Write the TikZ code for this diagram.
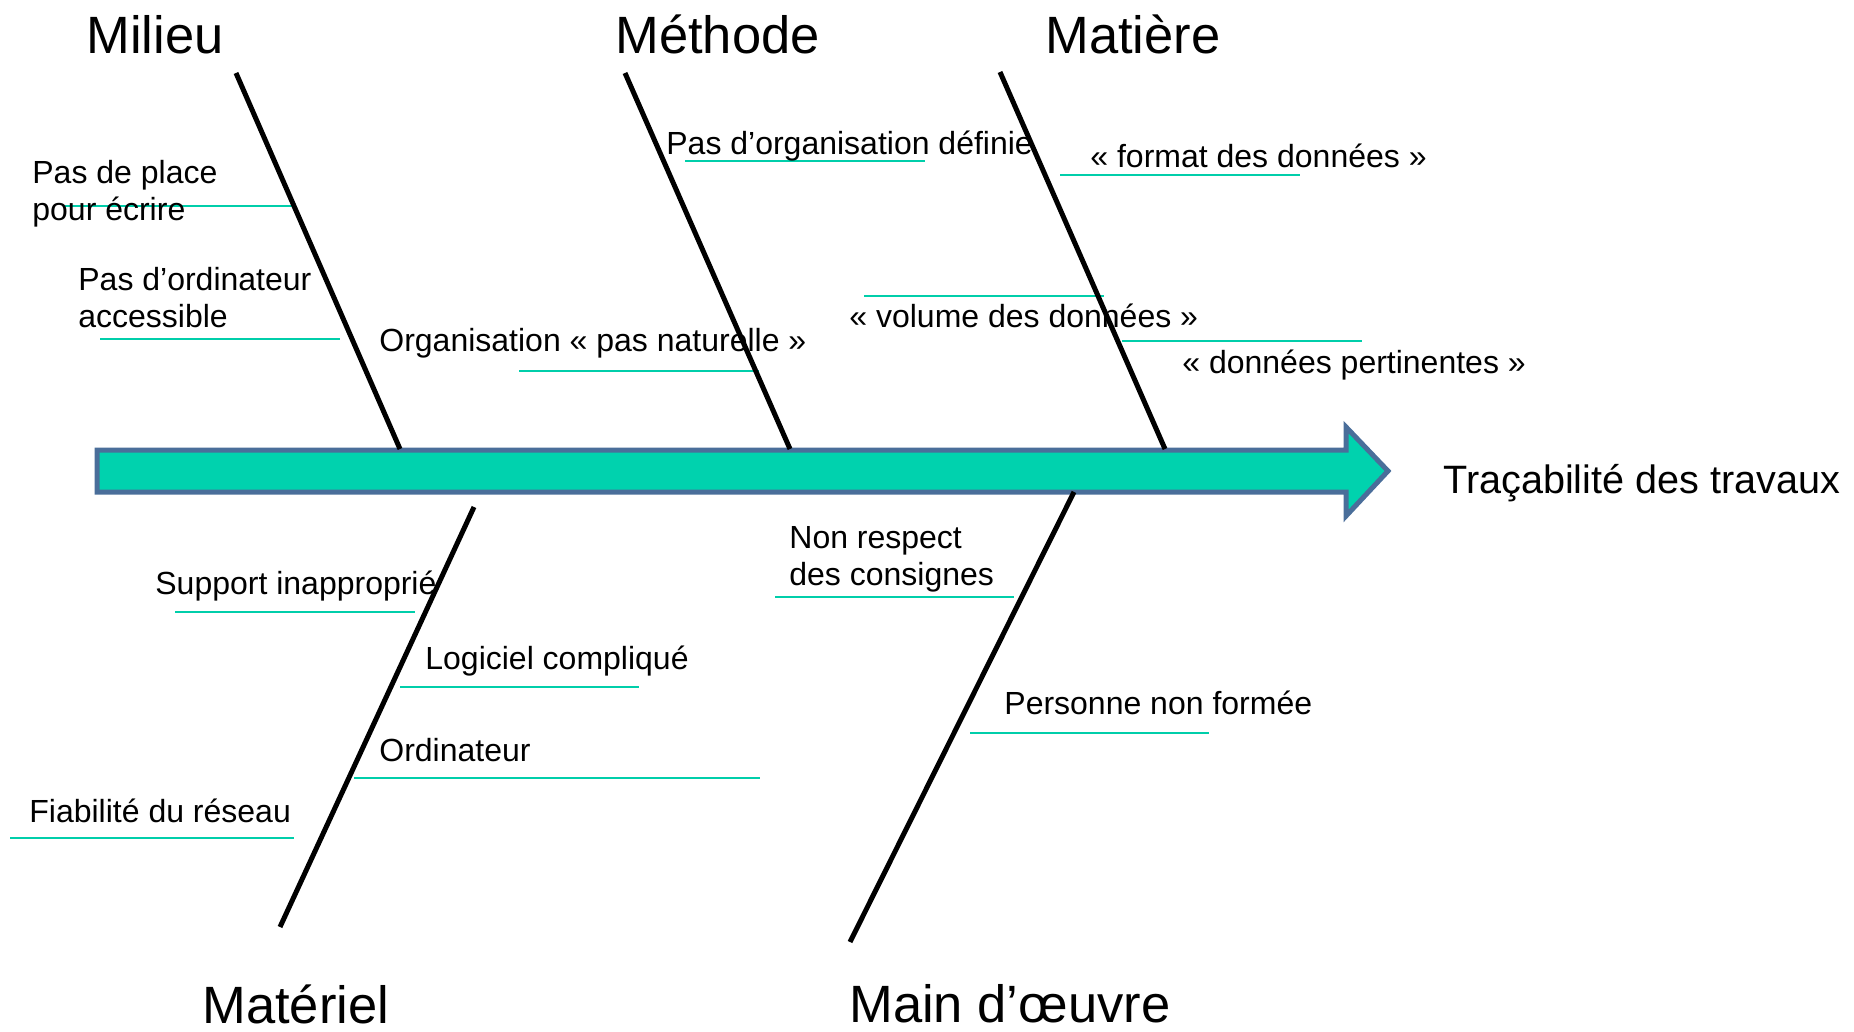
\documentclass[tikz,border=0pt]{standalone}
\usepackage{fontspec}
\setmainfont{Liberation Sans}
\usetikzlibrary{positioning}

\definecolor{spinefill}{RGB}{0,210,174}
\definecolor{spineborder}{RGB}{74,110,154}
\definecolor{causeline}{RGB}{0,206,170}

\begin{document}
\begin{tikzpicture}[x=0.5pt,y=-0.5pt,
    family/.style={anchor=base west,inner sep=0pt,font=\fontsize{26.25}{30}\selectfont},
    cause/.style={anchor=base west,inner sep=0pt,align=left,font=\fontsize{16}{18.5}\selectfont},
    bone/.style={line width=2.5pt,black},
    underline/.style={causeline,line width=0.85pt}]
    \useasboundingbox (0,0) rectangle (1854,1032);

    % spine
    \draw [spineborder,fill=spinefill,line width=2.5pt,line join=miter]
      (97,450) -- (1346,450) -- (1346,427) -- (1388,471) -- (1346,516)
      -- (1346,492) -- (97,492) -- cycle;
    \node (effect) [anchor=base west,inner sep=0pt,font=\fontsize{19.8}{22}\selectfont]
      at (1443,494) {Traçabilité des travaux};

    % families
    \node (milieu) [family] at (86,54) {Milieu};
    \node (methode) [family] at (615,54) {Méthode};
    \node (matiere) [family] at (1045,54) {Matière};
    \node (materiel) [family] at (202,1023) {Matériel};
    \node (mainoeuvre) [family] at (849,1022) {Main d’œuvre};

    % underlines
    \draw [underline] (65,206) -- (294,206);
    \draw [underline] (100,339) -- (340,339);
    \draw [underline] (519,371) -- (759,371);
    \draw [underline] (685,161) -- (925,161);
    \draw [underline] (1060,175) -- (1300,175);
    \draw [underline] (864,296) -- (1104,296);
    \draw [underline] (1122,341) -- (1362,341);
    \draw [underline] (175,612) -- (415,612);
    \draw [underline] (400,687) -- (639,687);
    \draw [underline] (354,778) -- (760,778);
    \draw [underline] (10,838) -- (294,838);
    \draw [underline] (775,597) -- (1014,597);
    \draw [underline] (970,733) -- (1209,733);

    % causes (two-line ones sit on their last line)
    \node (place) [cause] at (32,221) {Pas de place\\pour écrire};
    \node (ordi) [cause] at (78,328) {Pas d’ordinateur\\accessible};
    \node (naturelle) [cause] at (379,351) {Organisation « pas naturelle »};
    \node (definie) [cause] at (666,155) {Pas d’organisation définie};
    \node (format) [cause] at (1090,168) {« format des données »};
    \node (volume) [cause] at (849,328) {« volume des données »};
    \node (pertinentes) [cause] at (1182,373) {« données pertinentes »};
    \node (support) [cause] at (155,594) {Support inapproprié};
    \node (logiciel) [cause] at (425,669) {Logiciel compliqué};
    \node (ordinateur) [cause] at (379,761) {Ordinateur};
    \node (reseau) [cause] at (29,822) {Fiabilité du réseau};
    \node (consignes) [cause] at (789,585) {Non respect\\des consignes};
    \node (formee) [cause] at (1004,714) {Personne non formée};

    % bones
    \coordinate (milieu-a) at (236,73);
    \coordinate (milieu-b) at (400,449);
    \coordinate (methode-a) at (625,73);
    \coordinate (methode-b) at (790,449);
    \coordinate (matiere-a) at (1000,72);
    \coordinate (matiere-b) at (1165,449);
    \coordinate (materiel-a) at (474,507);
    \coordinate (materiel-b) at (280,927);
    \coordinate (mainoeuvre-a) at (1074,492);
    \coordinate (mainoeuvre-b) at (850,942);
    \draw [bone] (milieu-a) -- (milieu-b);
    \draw [bone] (methode-a) -- (methode-b);
    \draw [bone] (matiere-a) -- (matiere-b);
    \draw [bone] (materiel-a) -- (materiel-b);
    \draw [bone] (mainoeuvre-a) -- (mainoeuvre-b);
\end{tikzpicture}
\end{document}
